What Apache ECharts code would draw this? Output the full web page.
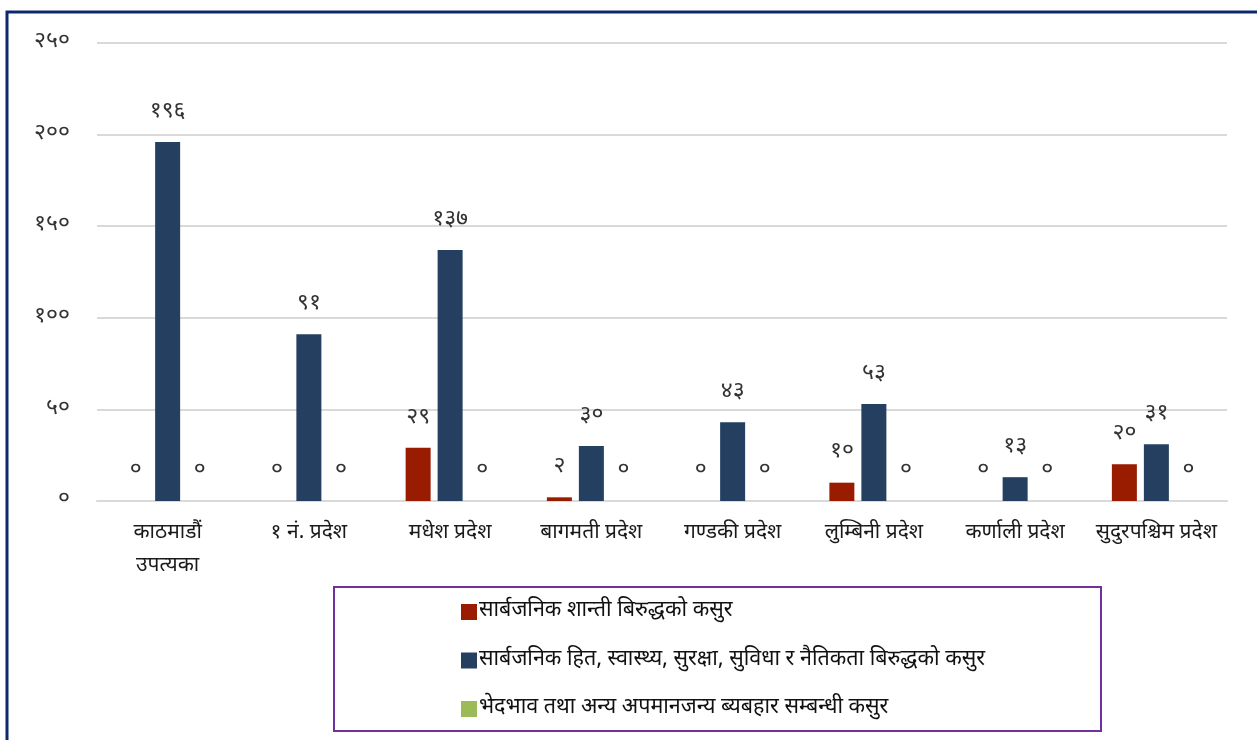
<!DOCTYPE html>
<html>
<head>
<meta charset="utf-8">
<script src="https://cdn.jsdelivr.net/npm/echarts@6/dist/echarts.min.js"></script>
<style>
  html, body { margin: 0; padding: 0; background: #fff; }
  #chart { width: 1257px; height: 740px; }
</style>
</head>
<body>
<div id="chart"></div>
<script>
// प्रदेशहरू
const categories = ['काठमाडौं\nउपत्यका', '१ नं. प्रदेश', 'मधेश प्रदेश', 'बागमती प्रदेश',
    'गण्डकी प्रदेश', 'लुम्बिनी प्रदेश', 'कर्णाली प्रदेश', 'सुदुरपश्चिम प्रदेश'];

const seriesNames = [
    'सार्बजनिक शान्ती बिरुद्धको कसुर',
    'सार्बजनिक हित, स्वास्थ्य, सुरक्षा, सुविधा र नैतिकता बिरुद्धको कसुर',
    'भेदभाव तथा अन्य अपमानजन्य ब्यबहार सम्बन्धी कसुर'
];

const shantiValues = [0, 0, 29, 2, 0, 10, 0, 20];
const hitValues = [196, 91, 137, 30, 43, 53, 13, 31];
const bhedbhavValues = [0, 0, 0, 0, 0, 0, 0, 0];

const colors = ['#991b00', '#243f60', '#9bbb59'];

const font = '"Noto Sans Devanagari", "Noto Sans", sans-serif';

// अंकलाई देवनागरीमा बदल्ने
const devDigits = ['०', '१', '२', '३', '४', '५', '६', '७', '८', '९'];
function toNepali(n) {
    return String(n).replace(/[0-9]/g, d => devDigits[+d]);
}

const chart = echarts.init(document.getElementById('chart'));

function makeSeries(name, data, color) {
    return {
        name: name,
        type: 'bar',
        data: data,
        barWidth: 25,
        barGap: '28%',
        itemStyle: { color: color },
        label: {
            show: true,
            position: 'top',
            distance: 18,
            fontFamily: font,
            fontSize: 23,
            color: '#333',
            formatter: p => toNepali(p.value)
        }
    };
}

const option = {
    backgroundColor: '#fff',
    grid: { left: 97, right: 30, top: 43, bottom: 239 },
    xAxis: {
        type: 'category',
        data: categories,
        axisLine: { lineStyle: { color: '#d9d9d9', width: 2 } },
        axisTick: { show: false },
        axisLabel: {
            interval: 0,
            fontFamily: font,
            fontSize: 21,
            color: '#1a1a1a',
            margin: 17,
            lineHeight: 33
        }
    },
    yAxis: {
        type: 'value',
        min: 0,
        max: 250,
        interval: 50,
        axisLine: { show: false },
        axisTick: { show: false },
        splitLine: { lineStyle: { color: '#d9d9d9', width: 2 } },
        axisLabel: {
            fontFamily: font,
            fontSize: 23,
            color: '#333',
            margin: 27,
            formatter: v => toNepali(v)
        }
    },
    legend: {
        orient: 'vertical',
        left: 456,
        top: 596,
        itemWidth: 16,
        itemHeight: 16,
        itemGap: 26.5,
        icon: 'rect',
        data: seriesNames,
        textStyle: { fontFamily: font, fontSize: 21.5, lineHeight: 20, color: '#111', padding: [0, 0, 0, -3] }
    },
    graphic: [
        {
            type: 'rect',
            shape: { x: 7, y: 12, width: 1270, height: 760 },
            style: { fill: 'none', stroke: '#0c2a6b', lineWidth: 3 },
            silent: true
        },
        {
            type: 'rect',
            shape: { x: 334, y: 587, width: 767, height: 144 },
            style: { fill: 'none', stroke: '#7030a0', lineWidth: 2 },
            silent: true
        }
    ],
    series: [
        makeSeries(seriesNames[0], shantiValues, colors[0]),
        makeSeries(seriesNames[1], hitValues, colors[1]),
        makeSeries(seriesNames[2], bhedbhavValues, colors[2])
    ]
};

chart.setOption(option);

window.addEventListener('resize', function() {
    chart.resize();
});
</script>
</body>
</html>
